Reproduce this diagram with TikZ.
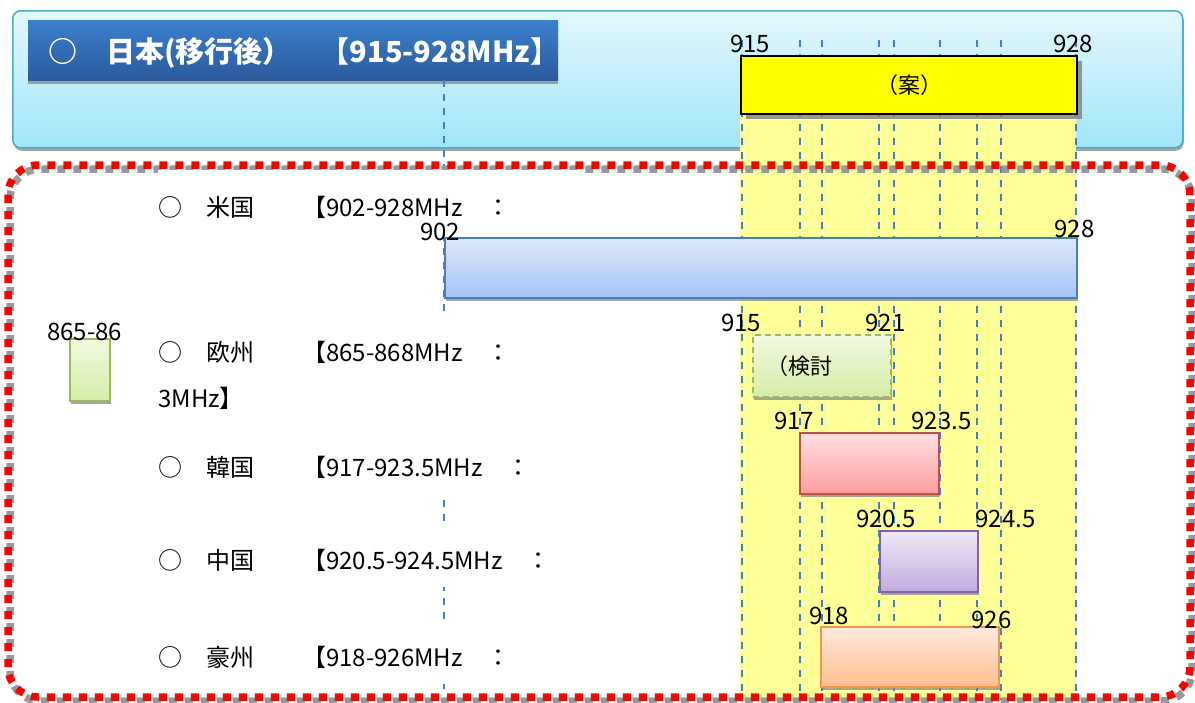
\documentclass[tikz,border=0pt]{standalone}
\usepackage{fontspec}
\setmainfont{Noto Sans CJK JP}
\usetikzlibrary{shadows}
\definecolor{myblue}{RGB}{74,126,187}
\definecolor{bluetop}{RGB}{222,232,250}
\definecolor{bluebottom}{RGB}{166,196,245}
\definecolor{panelline}{RGB}{75,172,198}
\definecolor{paneltop}{RGB}{228,247,253}
\definecolor{panelbottom}{RGB}{160,230,250}
\definecolor{titletop}{RGB}{60,128,204}
\definecolor{titlebottom}{RGB}{42,90,156}
\definecolor{planyellow}{RGB}{255,255,0}
\definecolor{lightyellow}{RGB}{255,255,153}
\definecolor{mygreen}{RGB}{155,187,89}
\definecolor{greentop}{RGB}{242,250,224}
\definecolor{greenbottom}{RGB}{212,237,168}
\definecolor{myred}{RGB}{192,80,77}
\definecolor{redtop}{RGB}{255,224,224}
\definecolor{redbottom}{RGB}{255,158,158}
\definecolor{mypurple}{RGB}{128,100,162}
\definecolor{purpletop}{RGB}{238,232,247}
\definecolor{purplebottom}{RGB}{193,171,224}
\definecolor{myorange}{RGB}{247,150,70}
\definecolor{orangetop}{RGB}{255,233,220}
\definecolor{orangebottom}{RGB}{255,191,142}

\tikzset{
  MHz/.style={anchor=base, inner sep=0pt, font=\fontsize{24}{28}\selectfont},
  Band/.style={draw=my#1, top color=#1top, bottom color=#1bottom, line width=1.5pt,
    inner sep=0pt, anchor=north west, minimum height=61pt,
    drop shadow={shadow xshift=1pt, shadow yshift=-3pt, fill=gray, opacity=.7}},
  CountryRow/.style={anchor=base west, fill=white, inner xsep=0pt, inner ysep=2pt,
    text width=420pt, align=left, text height=44pt, text depth=16pt,
    font=\fontsize{24}{46}\selectfont},
  Guide/.style={myblue, line width=2pt, dash pattern=on 7pt off 7pt},
  Frame/.style={line width=7.5pt, dash pattern=on 8pt off 8pt, rounded corners=30pt}
}

\begin{document}
\begin{tikzpicture}[x=1pt,y=-1pt]
\useasboundingbox (0,0) rectangle (1195,702);

\node[anchor=north west, minimum width=1170pt, minimum height=137pt, rounded corners=8pt,
  draw=panelline, line width=1.5pt, top color=paneltop, bottom color=panelbottom,
  drop shadow={shadow xshift=1pt, shadow yshift=-3pt, fill=gray, opacity=.7}] (panel) at (12,10) {};
\node[anchor=north west, minimum width=530pt, minimum height=60pt, inner sep=0pt,
  top color=titletop, bottom color=titlebottom,
  drop shadow={shadow xshift=0pt, shadow yshift=-4pt, fill=gray, opacity=.7}] (title) at (28,20) {};
\node[anchor=west, inner sep=0pt, text=white, font=\bfseries\fontsize{29}{33}\selectfont]
  (titleText) at ([xshift=20pt,yshift=-3pt]title.west) {○　日本(移行後）　【915-928MHz】};

\fill[lightyellow] (740,113) rectangle (1076,702);
\draw[Guide] (444,80) -- (444,690);
\foreach \x in {742,800,822,879,894,940,977,1001,1076}
  \draw[Guide] (\x,40) -- (\x,700);

\node[anchor=north west, minimum width=336pt, minimum height=58pt, draw=black, line width=2pt,
  fill=planyellow, font=\fontsize{22}{26}\selectfont, text depth=2pt,
  drop shadow={shadow xshift=5pt, shadow yshift=-5pt, fill=gray, opacity=.8}] (plan) at (740,55) {（案）};
\node[MHz] (topLow) at ([xshift=10pt,yshift=3pt]plan.north west) {915};
\node[MHz] (topHigh) at ([xshift=-5pt,yshift=3pt]plan.north east) {928};

\draw[Frame, gray!80, dash phase=8pt] (10,169) rectangle (1192,701);
\draw[Frame, red] (8,165) rectangle (1190,697);

\node[CountryRow] (usText) at (158,216) {○　米国　　【902-928MHz　：};
\node[CountryRow, text depth=62pt] (euText) at (158,361) {○　欧州　　【865-868MHz　：\\3MHz】};
\node[CountryRow] (krText) at (158,476) {○　韓国　　【917-923.5MHz　：};
\node[CountryRow] (cnText) at (158,569) {○　中国　　【920.5-924.5MHz　：};
\node[CountryRow] (auText) at (158,666) {○　豪州　　【918-926MHz　：};

\node[Band=blue, minimum width=632pt, minimum height=60pt] (usBand) at (444,237) {};
\node[MHz] (usLow) at ([xshift=-4pt,yshift=-3pt]usBand.north west) {902};
\node[MHz] (usHigh) at ([xshift=-3pt]usBand.north east) {928};

\node[Band=green, minimum width=40pt, minimum height=62pt] (euSmall) at (69,338) {};
\node[MHz] (euSmallLabel) at ([xshift=-5pt,yshift=-2pt]euSmall.north) {865-86};
\node[Band=green, dash pattern=on 6pt off 4pt, minimum height=62pt, text width=110pt, inner xsep=14pt,
  align=left, font=\fontsize{22}{26}\selectfont] (euPlan) at (752,334) {（検討};
\node[MHz] (euLow) at ([xshift=-11pt,yshift=3pt]euPlan.north west) {915};
\node[MHz] (euHigh) at ([xshift=-6pt,yshift=3pt]euPlan.north east) {921};

\node[Band=red, minimum width=139pt] (krBand) at (799,432) {};
\node[MHz] (krLow) at ([xshift=-5pt,yshift=3pt]krBand.north west) {917};
\node[MHz] (krHigh) at ([xshift=2pt,yshift=3pt]krBand.north east) {923.5};

\node[Band=purple, minimum width=98pt] (cnBand) at (879,530) {};
\node[MHz] (cnLow) at ([xshift=7pt,yshift=3pt]cnBand.north west) {920.5};
\node[MHz] (cnHigh) at ([xshift=27pt,yshift=3pt]cnBand.north east) {924.5};

\node[Band=orange, minimum width=178pt, minimum height=60pt] (auBand) at (820,626) {};
\node[MHz] (auLow) at ([xshift=9pt,yshift=2pt]auBand.north west) {918};
\node[MHz] (auHigh) at ([xshift=-8pt,yshift=-2pt]auBand.north east) {926};
\end{tikzpicture}
\end{document}
